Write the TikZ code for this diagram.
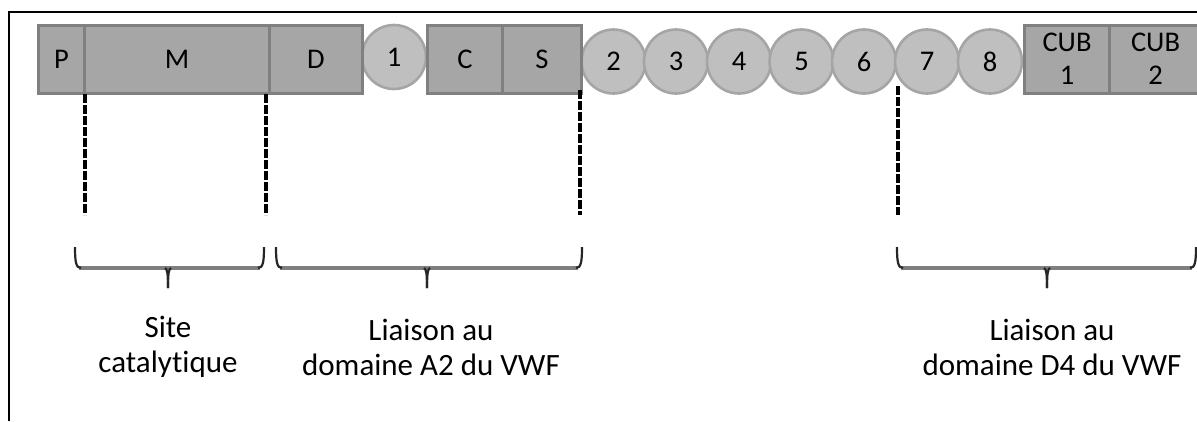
\documentclass[tikz,border=0pt]{standalone}
\usepackage{fontspec}
\setmainfont{Carlito}[Ligatures=NoCommon]
\definecolor{boxfill}{HTML}{A6A6A6}
\definecolor{boxline}{HTML}{808080}
\definecolor{circfill}{HTML}{BFBFBF}
\definecolor{circline}{HTML}{A5A5A5}
\definecolor{bracegray}{HTML}{7F7F7F}
\begin{document}
\begin{tikzpicture}[x=1pt,y=-1pt,
  dom/.style={draw=boxline, fill=boxfill, line width=3pt, minimum height=68pt,
    inner sep=0pt, anchor=west, font=\fontsize{28.5}{33}\selectfont, align=center},
  rep/.style={circle, draw=circline, fill=circfill, line width=2.6pt, minimum size=64pt,
    inner sep=0pt, font=\fontsize{28.5}{33}\selectfont},
  dashln/.style={line width=3.4pt, dash pattern=on 9pt off 2pt},
  bracebar/.style={draw=bracegray, line width=3.4pt},
  braceend/.style={draw=black!85, line width=2.2pt},
  lab/.style={align=center, font=\fontsize{31}{35}\selectfont}]
\useasboundingbox (0,0) rectangle (1197,421);
% frame
\draw[line width=2.8pt] (9,421) -- (9,12) -- (1197,12);
% circles 2..8 (drawn first so boxes sit on top)
\foreach \i/\x in {2/613.5,3/676,4/739,5/801.5,6/864,7/927,8/990}
  \node[rep] (r\i) at (\x,61.5) {\i};
\node[rep] (r1) at (394,57) {1};
% boxes
\node[dom, minimum width=46pt]  (P) at (37,59)  {P};
\node[dom, minimum width=185pt] (M) at (83,59)  {M};
\node[dom, minimum width=93pt]  (D) at (268,59) {D};
\node[dom, minimum width=75pt]  (C) at (426,59) {C};
\node[dom, minimum width=79pt]  (S) at (501,59) {S};
\node[dom, minimum width=85pt]  (CUB1) at (1023,59) {CUB\\1};
\node[dom, minimum width=92pt]  (CUB2) at (1108,59) {CUB\\2};
% dashed guides
\coordinate (g1) at (85,215);
\coordinate (g2) at (266,215);
\coordinate (g3) at (580,215);
\coordinate (g4) at (898,215);
\coordinate (t1) at (85,94);
\coordinate (t2) at (266,94);
\coordinate (t3) at (580,90);
\coordinate (t4) at (898,86);
\draw[dashln] (t1) -- (g1);
\draw[dashln] (t2) -- (g2);
\draw[dashln] (t3) -- (g3);
\draw[dashln] (t4) -- (g4);
% braces
\foreach \L/\C/\R/\n in {75/168/264/a, 276/427/582/b, 897/1047/1196/c}{
  \coordinate (bl\n) at (\L,247);
  \coordinate (bc\n) at (\C,288);
  \coordinate (br\n) at (\R,247);
  \draw[bracebar] (\L+4,268) -- (\R-4,268);
  \draw[braceend] (bl\n) .. controls (\L,262) and (\L+1,268) .. (\L+6,268);
  \draw[braceend] (br\n) .. controls (\R,262) and (\R-1,268) .. (\R-6,268);
  \draw[braceend] (\C-3,268) .. controls (\C-1,269) and (\C,272) .. (bc\n);
  \draw[braceend] (\C+3,268) .. controls (\C+1,269) and (\C,272) .. (bc\n);
}
% labels
\node[lab] (l1) at (168,347) {Site\\catalytique};
\node[lab] (l2) at (431,347) {Liaison au\\domaine A2 du VWF};
\node[lab] (l3) at (1052,347) {Liaison au\\domaine D4 du VWF};
\end{tikzpicture}
\end{document}
